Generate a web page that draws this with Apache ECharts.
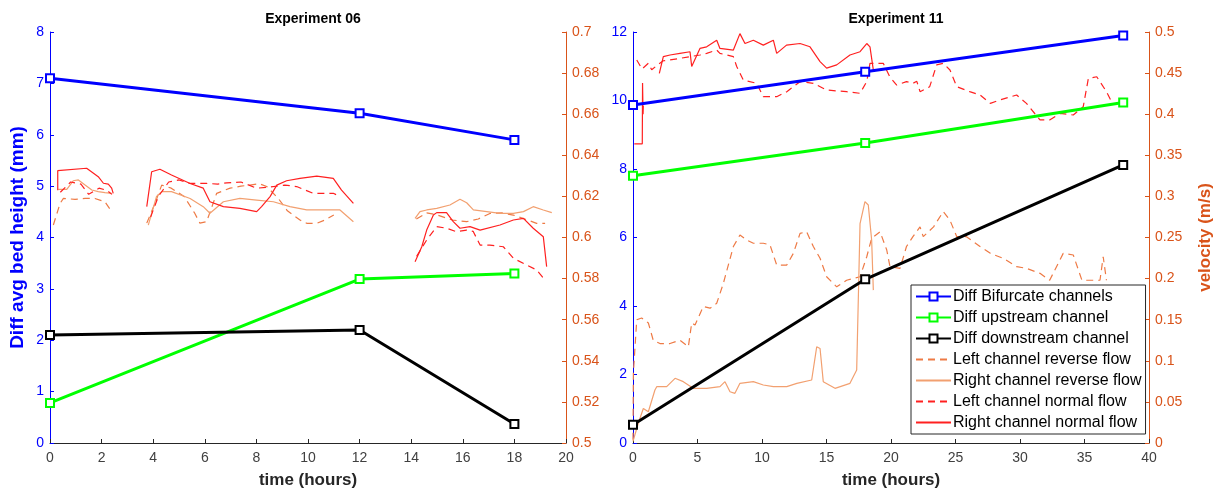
<!DOCTYPE html>
<html>
<head>
<meta charset="utf-8">
<script src="https://cdn.jsdelivr.net/npm/echarts@6/dist/echarts.min.js"></script>
<style>
html, body { margin:0; padding:0; background:#fff; }
#chart { width:1227px; height:495px; }
</style>
</head>
<body>
<div id="chart"></div>
<script>
// ---- bed height differences (left axes) ----
var runTimes06 = [0, 12, 18];
var bifurcate06 = [7.1, 6.42, 5.9];
var upstream06 = [0.78, 3.19, 3.3];
var downstream06 = [2.1, 2.2, 0.37];

var runTimes11 = [0, 18, 38];
var bifurcate11 = [9.87, 10.84, 11.9];
var upstream11 = [7.8, 8.76, 9.94];
var downstream11 = [0.53, 4.78, 8.12];

// ---- velocities (right axes), null = gap between records ----
var leftRevT06 = [0.13,0.39,0.52,0.97,1.36,1.74,2.13,2.39,null,3.75,4.07,4.33,4.7,5.2,5.6,5.81,6.07,6.46,6.98,7.4,7.75,8.1,8.4,8.85,9.2,9.69,9.95,10.34,10.66,11.0,null,14.2,14.6,15.0,15.6,16.15,16.6,17.05,17.5,17.96,18.4,18.86,19.19];
var leftRevV06 = [0.6061,0.6166,0.619,0.6186,0.619,0.619,0.6174,0.6126,null,0.607,0.6166,0.6255,0.624,0.62,0.612,0.607,0.6077,0.6215,0.624,0.625,0.6255,0.6262,0.6248,0.619,0.613,0.6085,0.6069,0.6069,0.6085,0.611,null,0.609,0.612,0.611,0.6085,0.6077,0.609,0.6117,0.612,0.6109,0.609,0.6069,0.6069];

var rightRevT06 = [0.32,0.65,0.9,1.1,1.36,1.62,1.87,2.13,2.39,null,3.81,4.13,4.33,4.71,5.43,5.94,6.2,6.72,7.36,8.01,8.66,9.3,9.95,10.59,11.24,11.76,null,14.15,14.34,14.6,14.99,15.5,15.89,16.15,16.41,16.93,17.44,17.96,18.35,18.73,19.12,19.45];
var rightRevV06 = [0.6234,0.6234,0.6276,0.628,0.6255,0.6231,0.6223,0.6218,0.6215,null,0.606,0.62,0.6223,0.6223,0.619,0.615,0.6118,0.6174,0.619,0.6182,0.6174,0.615,0.6134,0.6134,0.6134,0.6077,null,0.6093,0.6126,0.6134,0.6142,0.6158,0.6186,0.6169,0.6134,0.6126,0.6117,0.6117,0.6126,0.615,0.6134,0.6121];

var leftNormT06 = [0.4,0.8,1.2,1.5,1.9,2.2,2.4,null,3.9,4.2,4.6,5.0,5.43,6.07,6.5,6.85,7.4,8.01,8.5,9.1,9.56,10.2,10.6,10.98,11.24,null,14.21,14.6,14.99,15.37,15.76,16.15,16.4,16.67,17.05,17.57,17.96,18.47,18.86,19.19];
var leftNormV06 = [0.622,0.627,0.626,0.621,0.624,0.623,0.621,null,0.61,0.62,0.627,0.628,0.6263,0.6263,0.626,0.6266,0.627,0.624,0.6245,0.6255,0.6248,0.6215,0.6215,0.6215,0.62,null,0.5908,0.5988,0.6053,0.6045,0.6028,0.6036,0.603,0.5963,0.5963,0.5955,0.5899,0.5866,0.5842,0.5793];

var rightNormT06 = [0.3,0.3,1.42,1.49,1.87,2.07,2.26,2.39,2.45,null,3.75,3.94,4.26,4.71,5.43,5.94,6.2,6.72,7.36,8.01,8.2,8.53,8.79,9.17,9.69,10.34,10.98,11.3,11.76,null,14.15,14.41,14.6,14.86,14.99,15.37,15.63,15.89,16.28,16.67,17.44,17.96,18.35,18.73,19.12,19.25];
var rightNormV06 = [0.623,0.6325,0.6337,0.6342,0.6296,0.6264,0.626,0.624,0.6215,null,0.615,0.632,0.6332,0.6304,0.6263,0.624,0.6174,0.615,0.6142,0.6126,0.615,0.6199,0.6255,0.6276,0.6288,0.6299,0.6288,0.6231,0.6166,null,0.5882,0.5955,0.6036,0.6109,0.6121,0.6121,0.6077,0.6045,0.6053,0.6036,0.6061,0.6085,0.6093,0.6045,0.6004,0.5858];

var leftRevT11 = [0,0.03,0.29,0.67,1.19,1.57,2.09,2.87,3.64,4.29,4.55,4.81,5.45,5.97,6.49,7,7.78,8.29,8.81,9.33,10.1,10.62,11.14,11.92,12.43,12.95,13.46,13.98,14.5,15.01,15.79,16.56,17.6,18.12,18.5,19.15,19.67,19.92,20.7,21.2,21.7,22.25,22.5,23.3,24.05,24.57,25.1,25.85,26.9,27.7,28.7,29.74,30.5,31.55,32.3,33.35,34.13,34.8,36.2,36.45,36.7];
var leftRevV11 = [0.004,0.085,0.15,0.152,0.146,0.125,0.121,0.121,0.125,0.117,0.146,0.1436,0.166,0.164,0.17,0.194,0.239,0.253,0.247,0.243,0.243,0.241,0.2165,0.2165,0.2307,0.255,0.257,0.239,0.2247,0.2023,0.19,0.198,0.2023,0.2266,0.249,0.257,0.2348,0.2145,0.2125,0.239,0.251,0.263,0.251,0.263,0.2815,0.271,0.251,0.251,0.239,0.2307,0.2247,0.2145,0.2125,0.2064,0.198,0.2307,0.2287,0.198,0.198,0.2266,0.198];

var rightRevT11 = [0,0.41,0.8,1.19,1.7,1.84,2.61,3.26,3.9,4.67,5.71,6.74,7.13,7.52,7.9,8.29,9.33,10.1,10.88,11.92,12.7,13.85,14.24,14.5,14.75,15.66,16.82,17.34,17.6,17.98,18.24,18.5,18.63];
var rightRevV11 = [0.002,0.024,0.042,0.038,0.0645,0.0685,0.0685,0.0787,0.0746,0.0665,0.0665,0.0685,0.0746,0.0624,0.0604,0.0726,0.0746,0.0706,0.0685,0.0685,0.0726,0.0766,0.117,0.115,0.0746,0.0665,0.0726,0.0888,0.267,0.2936,0.2895,0.247,0.186];

var leftNormT11 = [0.29,0.7,1.19,1.45,1.9,2.35,2.87,3.64,4.42,5.19,5.71,6.49,6.74,7.3,7.78,8.04,8.55,9.59,10.1,11.14,11.92,12.95,13.98,15.01,16.56,17.6,18.12,18.37,19.4,19.9,20.44,21.2,21.7,22,22.25,23,23.54,24.05,24.57,25.1,26.1,26.9,27.7,28.45,29.74,30.5,31.55,32.3,33.1,34.13,34.9,35.3,35.95,36.7,37.1];
var leftNormV11 = [0.466,0.455,0.462,0.454,0.46,0.465,0.466,0.468,0.47,0.472,0.474,0.478,0.474,0.472,0.47,0.458,0.4416,0.4376,0.4213,0.4213,0.4274,0.4396,0.4376,0.4294,0.4274,0.4254,0.4396,0.4619,0.4619,0.4456,0.4355,0.4396,0.4376,0.44,0.4274,0.4335,0.46,0.4619,0.4538,0.4335,0.4274,0.4234,0.4132,0.4173,0.4234,0.4132,0.393,0.393,0.401,0.399,0.409,0.4436,0.4456,0.4274,0.415];

var rightNormT11 = [0.1,0.72,0.74,0.78,0.8,null,2.04,2.35,2.87,3.64,4.42,4.55,5.19,5.71,6.49,6.74,7.78,8.29,8.68,9.33,10.1,10.88,11.14,11.9,12.95,13.72,14.5,15.01,15.79,16.82,17.6,18.12,18.37,18.63];
var rightNormV11 = [0.364,0.364,0.438,0.40,0.41,null,0.4497,0.47,0.472,0.474,0.476,0.458,0.48,0.482,0.49,0.48,0.478,0.498,0.486,0.49,0.484,0.49,0.474,0.484,0.486,0.482,0.464,0.456,0.46,0.472,0.476,0.486,0.482,0.454];

var legendNames = ['Diff Bifurcate channels','Diff upstream channel','Diff downstream channel','Left channel reverse flow','Right channel reverse flow','Left channel normal flow','Right channel normal flow'];

var FONT = 'Liberation Sans, Arial, Helvetica, sans-serif';
var BLUE = '#0000ff', ORANGE_AX = '#D95319', GRAY = '#262626';

function pairs(t, v) {
    var out = [];
    for (var i = 0; i < t.length; i++) {
        if (t[i] == null || v[i] == null) out.push([t[i - 1], '-']);
        else out.push([t[i], v[i]]);
    }
    return out;
}

function diffSeries(name, color, t, v, idx) {
    return {
        name: name, type: 'line', xAxisIndex: idx, yAxisIndex: idx * 2,
        data: pairs(t, v), color: color, z: 5,
        symbol: 'emptyRect', symbolSize: 8,
        lineStyle: { width: 3, color: color },
        itemStyle: { color: color, borderColor: color, borderWidth: 1.5 }
    };
}

function velSeries(name, color, dash, t, v, idx) {
    return {
        name: name, type: 'line', xAxisIndex: idx, yAxisIndex: idx * 2 + 1,
        data: pairs(t, v), color: color, showSymbol: false, symbol: 'none', z: 3,
        connectNulls: false,
        lineStyle: { width: 1.2, color: color, type: dash ? [7, 5] : 'solid' }
    };
}

function xAxisOf(idx, max, interval) {
    return {
        type: 'value', gridIndex: idx, min: 0, max: max, interval: interval,
        name: 'time (hours)', nameLocation: 'middle', nameGap: 29,
        nameTextStyle: { fontFamily: FONT, fontSize: 17, fontWeight: 'bold', color: GRAY },
        axisLine: { lineStyle: { color: GRAY, width: 1 } },
        axisTick: { inside: true, length: 4, lineStyle: { color: GRAY } },
        axisLabel: { fontFamily: FONT, fontSize: 14, color: '#404040', margin: 8 },
        splitLine: { show: false }
    };
}

function yAxisOf(idx, pos, color, min, max, interval, name, nameSize) {
    return {
        type: 'value', gridIndex: idx, position: pos, min: min, max: max, interval: interval,
        name: name || '', nameLocation: 'middle', nameGap: pos == 'left' ? 23 : 48,
        nameTextStyle: { fontFamily: FONT, fontSize: nameSize || 17, fontWeight: 'bold', color: color },
        axisLine: { show: true, lineStyle: { color: color, width: 1 } },
        axisTick: { show: true, inside: true, length: 4, lineStyle: { color: color } },
        axisLabel: {
            fontFamily: FONT, fontSize: 14, color: color, margin: 6,
            formatter: function (val) { return String(+val.toFixed(2)); }
        },
        splitLine: { show: false }
    };
}

// legend: no marker on the plain velocity lines
var legendData = legendNames.map(function (n, i) {
    return i < 3 ? { name: n } : { name: n, itemStyle: { opacity: 0 } };
});

var chart = echarts.init(document.getElementById('chart'));

var option = {
    backgroundColor: '#fff',
    animation: false,
    title: [
        { text: 'Experiment 06', left: 308, top: 7, textAlign: 'center',
          textStyle: { fontFamily: FONT, fontSize: 14, fontWeight: 'bold', color: '#000' } },
        { text: 'Experiment 11', left: 891, top: 7, textAlign: 'center',
          textStyle: { fontFamily: FONT, fontSize: 14, fontWeight: 'bold', color: '#000' } }
    ],
    legend: {
        data: legendData,
        orient: 'vertical',
        left: 911, top: 285,
        padding: [3, 4, 3, 4],
        itemGap: 4,
        itemWidth: 35, itemHeight: 10,
        backgroundColor: '#fff',
        borderColor: '#262626', borderWidth: 1,
        textStyle: { fontFamily: FONT, fontSize: 16, color: '#000', lineHeight: 17, padding: [0, 0, 0, -3] }
    },
    grid: [
        { left: 50, top: 32, width: 516, height: 411 },
        { left: 633, top: 32, width: 516, height: 411 }
    ],
    xAxis: [ xAxisOf(0, 20, 2), xAxisOf(1, 40, 5) ],
    yAxis: [
        yAxisOf(0, 'left', BLUE, 0, 8, 1, 'Diff avg bed height (mm)', 19),
        yAxisOf(0, 'right', ORANGE_AX, 0.5, 0.7, 0.02),
        yAxisOf(1, 'left', BLUE, 0, 12, 2),
        yAxisOf(1, 'right', ORANGE_AX, 0, 0.5, 0.05, 'velocity (m/s)')
    ],
    series: [
        diffSeries(legendNames[0], BLUE, runTimes06, bifurcate06, 0),
        diffSeries(legendNames[1], '#00ff00', runTimes06, upstream06, 0),
        diffSeries(legendNames[2], '#000000', runTimes06, downstream06, 0),
        velSeries(legendNames[3], '#ee7a45', true, leftRevT06, leftRevV06, 0),
        velSeries(legendNames[4], '#f2a070', false, rightRevT06, rightRevV06, 0),
        velSeries(legendNames[5], '#ff2020', true, leftNormT06, leftNormV06, 0),
        velSeries(legendNames[6], '#ff2020', false, rightNormT06, rightNormV06, 0),

        diffSeries(legendNames[0], BLUE, runTimes11, bifurcate11, 1),
        diffSeries(legendNames[1], '#00ff00', runTimes11, upstream11, 1),
        diffSeries(legendNames[2], '#000000', runTimes11, downstream11, 1),
        velSeries(legendNames[3], '#ee7a45', true, leftRevT11, leftRevV11, 1),
        velSeries(legendNames[4], '#f2a070', false, rightRevT11, rightRevV11, 1),
        velSeries(legendNames[5], '#ff2020', true, leftNormT11, leftNormV11, 1),
        velSeries(legendNames[6], '#ff2020', false, rightNormT11, rightNormV11, 1)
    ]
};

chart.setOption(option);
</script>
</body>
</html>
